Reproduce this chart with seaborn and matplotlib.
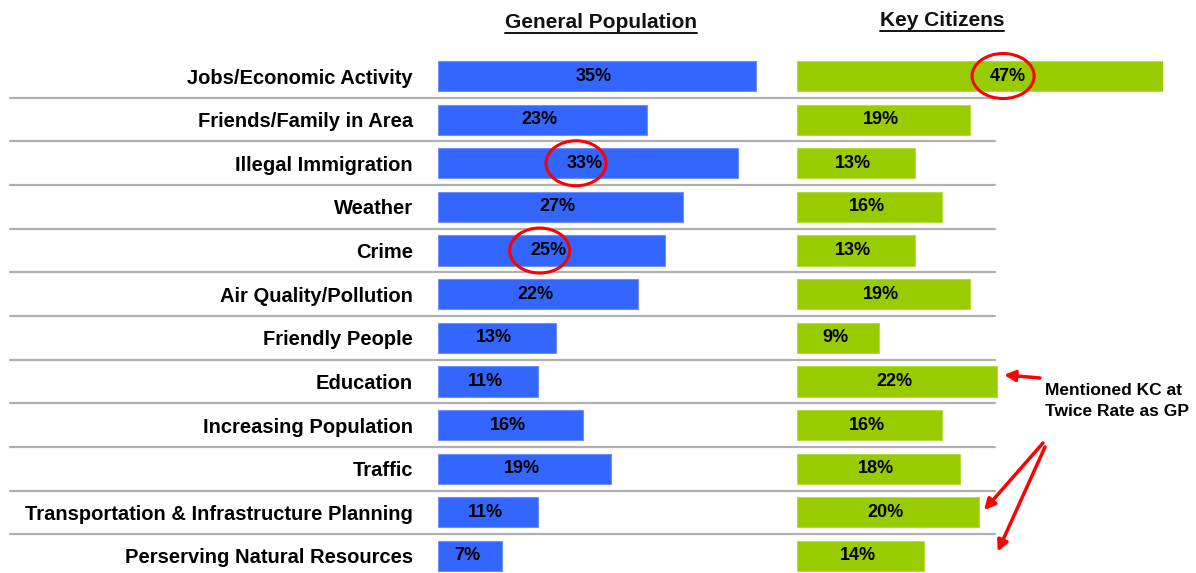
import numpy as np
import pandas as pd
import matplotlib.pyplot as plt
import seaborn as sns
from matplotlib.patches import Ellipse
from matplotlib.lines import Line2D

# data
categories = ['Jobs/Economic Activity', 'Friends/Family in Area', 'Illegal Immigration',
              'Weather', 'Crime', 'Air Quality/Pollution', 'Friendly People', 'Education',
              'Increasing Population', 'Traffic', 'Transportation & Infrastructure Planning',
              'Perserving Natural Resources']
general_pop = [35, 23, 33, 27, 25, 22, 13, 11, 16, 19, 11, 7]
key_citizens = [47, 19, 13, 16, 13, 19, 9, 22, 16, 18, 20, 14]
circled_gp = ['Illegal Immigration', 'Crime']
circled_kc = ['Jobs/Economic Activity']
twice_rate = ['Education', 'Transportation & Infrastructure Planning', 'Perserving Natural Resources']

df = pd.DataFrame({'factor': categories, 'gp': general_pop, 'kc': key_citizens})

sns.set_style('white')
plt.rcParams['font.family'] = ['Liberation Sans', 'DejaVu Sans']
plt.rcParams['text.color'] = 'black'
plt.rcParams['ytick.color'] = 'black'

W, H = 1196, 573
fig = plt.figure(figsize=(W / 100, H / 100), dpi=100)
px = 9.08  # pixels per percent
top_px, bot_px = 54.2, 577.8
ax1 = fig.add_axes([438 / W, 1 - bot_px / H, 352 / W, (bot_px - top_px) / H])
ax2 = fig.add_axes([797 / W, 1 - bot_px / H, 366 / W, (bot_px - top_px) / H])

blue = '#3366ff'
green = '#99cc00'
sns.barplot(data=df, y='factor', x='gp', ax=ax1, color=blue, width=0.69,
            edgecolor='#6f8fff', linewidth=0.8, saturation=1)
sns.barplot(data=df, y='factor', x='kc', ax=ax2, color=green, width=0.69,
            edgecolor='#b5dd40', linewidth=0.8, saturation=1)

ax1.set_xlim(0, 352 / px)
ax2.set_xlim(0, 366 / px)
n = len(categories)
for ax in (ax1, ax2):
    ax.set_ylim(n - 0.5, -0.5)
    ax.set_xlabel('')
    ax.set_ylabel('')
    ax.set_xticks([])
    sns.despine(ax=ax, left=True, bottom=True)
    ax.patch.set_alpha(0)

ax1.tick_params(axis='y', length=0, pad=18)
ax1.set_yticks(range(n))
ax1.set_yticklabels(categories, fontsize=14.5, fontweight='bold', color='black')
ax2.set_yticks([])

# value labels
for i, (g, k) in enumerate(zip(general_pop, key_citizens)):
    ax1.text(g / 2 - 0.3, i, f'{g}%', ha='center', va='center', fontsize=13, fontweight='bold')
    ax2.text(k / 2 - 0.3, i, f'{k}%', ha='center', va='center', fontsize=13, fontweight='bold')

# separator lines between rows
ax_w = 352
for i in range(n - 1):
    ax1.axhline(i + 0.5, xmin=(10 - 438) / ax_w, xmax=(995 - 438) / ax_w,
                color='#b0b0b0', lw=1.6, clip_on=False, zorder=0)

# red circles
for i, c in enumerate(categories):
    if c in circled_gp:
        ax1.add_patch(Ellipse((general_pop[i] / 2 - 1.3, i), 60 / px, 45 / 43.6,
                              fill=False, ec='red', lw=2.2, clip_on=False, zorder=5))
    if c in circled_kc:
        ax2.add_patch(Ellipse((key_citizens[i] / 2 - 0.8, i), 62 / px, 45 / 43.6,
                              fill=False, ec='red', lw=2.2, clip_on=False, zorder=5))

# arrows for KC mentioned twice as often
tail_pts = [(1040 / W, 1 - 378 / H), (1043 / W, 1 - 443 / H), (1045 / W, 1 - 447 / H)]
head_off = [(0.8, -0.15), (0.6, -0.05), (8.1, -0.1)]
for c, tail, off in zip(twice_rate, tail_pts, head_off):
    i = categories.index(c)
    ax2.annotate('', xy=(key_citizens[i] + off[0], i + off[1]), xycoords='data',
                 xytext=tail, textcoords='figure fraction', annotation_clip=False,
                 arrowprops=dict(arrowstyle='-|>', color='red', lw=2.5, mutation_scale=16,
                                 shrinkA=0, shrinkB=0))
fig.text(1045 / W, 1 - 383 / H, 'Mentioned KC at\nTwice Rate as GP', ha='left', va='top',
         fontsize=12.5, fontweight='bold', linespacing=1.5)

# column headers, underlined
headers = [('General Population', 601, 22), ('Key Citizens', 942, 20)]
fig.canvas.draw()
renderer = fig.canvas.get_renderer()
for label, x, y in headers:
    t = fig.text(x / W, 1 - y / H, label, ha='center', va='center', fontsize=15,
                 fontweight='semibold', color='#111111')
    bb = t.get_window_extent(renderer)
    yline = (bb.y0 - 1) / H
    fig.add_artist(Line2D([bb.x0 / W, bb.x1 / W], [yline, yline], color='#111111', lw=1.4))

fig.savefig('out.png', dpi=100)
